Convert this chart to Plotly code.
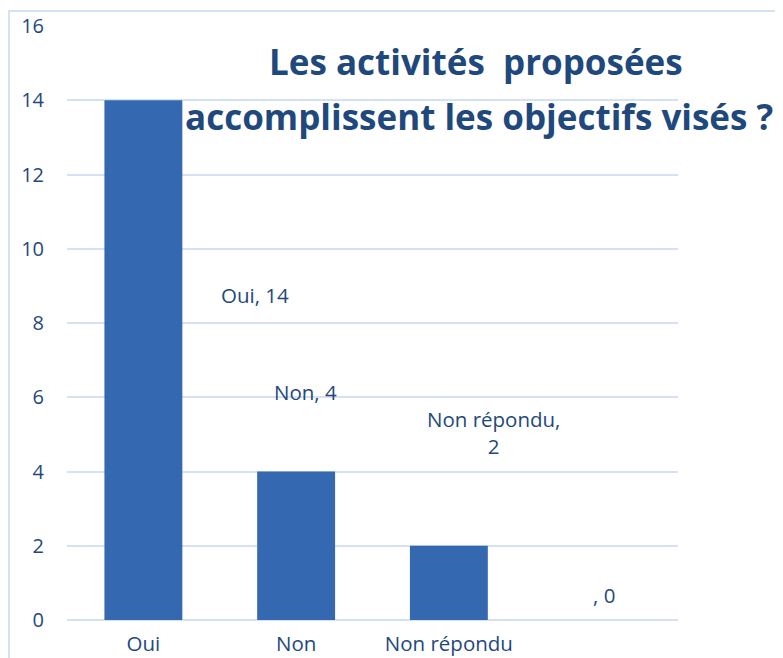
import plotly.graph_objects as go

categories = ["Oui", "Non", "Non répondu", " "]
values = [14, 4, 2, 0]
label_texts = ["Oui, 14", "Non, 4", "Non répondu,<br>2", ", 0"]
tick_vals = [0, 2, 4, 6, 8, 10, 12, 14, 16]
title_lines = ["Les activités  proposées", "accomplissent les objectifs visés ?"]

TEXT = "#1F497D"
GRID = "#D5E2F3"
FONT = "Open Sans"

fig = go.Figure()
fig.add_trace(go.Bar(
    x=categories, y=values,
    marker=dict(color="#3468B0", line=dict(width=0)),
    width=0.51,
    hoverinfo="skip",
))

# data label placement (style: where Excel put them)
label_y = [8.75, 6.14, 5.05, 0.67]
label_dx = [112, 9, 45, 2]
for c, t, yy, dx in zip(categories, label_texts, label_y, label_dx):
    fig.add_annotation(x=c, y=yy, text=t, showarrow=False, xshift=dx,
                       font=dict(family=FONT, size=20.5, color=TEXT),
                       xanchor="center", yanchor="middle")

title_pos = [(0.669, 0.941), (0.674, 0.848)]
for line, (px, py) in zip(title_lines, title_pos):
    fig.add_annotation(xref="paper", yref="paper", x=px, y=py, text="<b>%s</b>" % line,
                       showarrow=False, xanchor="center", yanchor="middle",
                       font=dict(family=FONT, size=35, color=TEXT))

# chart frame
fig.add_shape(type="rect", xref="paper", yref="paper",
              x0=-0.0949, x1=1.4, y0=-0.3, y1=1.0253,
              line=dict(color="#D5E2F3", width=2), layer="below")

fig.update_layout(
    width=775, height=650,
    margin=dict(l=59, r=105, t=18, b=38, autoexpand=False),
    paper_bgcolor="white", plot_bgcolor="white",
    showlegend=False,
    font=dict(family=FONT, color=TEXT, size=20),
    bargap=0.49,
)
fig.update_xaxes(showgrid=False, showline=False, zeroline=False, ticks="",
                 tickfont=dict(family=FONT, size=20.5, color=TEXT),
                 ticklabelstandoff=9, fixedrange=True, automargin=False)
fig.update_yaxes(range=[0, 16], tickvals=tick_vals, showgrid=True, gridcolor=GRID,
                 gridwidth=2, zeroline=True, zerolinecolor=GRID, zerolinewidth=2,
                 showline=False, ticks="",
                 tickfont=dict(family=FONT, size=20, color=TEXT),
                 ticklabelstandoff=22, fixedrange=True, automargin=False)

fig.write_html("out.html")
